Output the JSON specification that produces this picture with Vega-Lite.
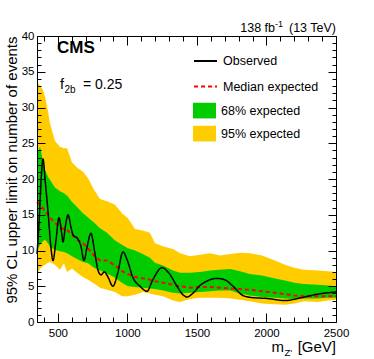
{
  "$schema": "https://vega.github.io/schema/vega-lite/v6.json",
  "width": 299,
  "height": 286,
  "autosize": {"type": "none"},
  "padding": {"left": 37, "top": 36, "right": 38, "bottom": 37},
  "background": "white",
  "config": {
    "view": {"stroke": null},
    "font": "Liberation Sans",
    "text": {"font": "Liberation Sans", "color": "black"},
    "legend": {"labelFont": "Liberation Sans", "labelFontSize": 12.5, "labelColor": "black", "labelOffset": 5, "padding": 0, "symbolSize": 529, "title": null}
  },
  "datasets": {
    "bands": [
      {"m": 350, "lo95": 6.5, "lo68": 10.0, "exp": 16.8, "hi68": 23.5, "hi95": 33.6},
      {"m": 372, "lo95": 7.5, "lo68": 10.8, "exp": 16.4, "hi68": 24.5, "hi95": 33.0},
      {"m": 393, "lo95": 7.8, "lo68": 11.3, "exp": 15.9, "hi68": 22.5, "hi95": 32.5},
      {"m": 408, "lo95": 8.0, "lo68": 11.5, "exp": 15.5, "hi68": 21.3, "hi95": 31.5},
      {"m": 429, "lo95": 8.3, "lo68": 11.0, "exp": 15.0, "hi68": 20.3, "hi95": 29.5},
      {"m": 443, "lo95": 8.4, "lo68": 10.5, "exp": 14.6, "hi68": 19.9, "hi95": 27.8},
      {"m": 479, "lo95": 8.0, "lo68": 10.1, "exp": 13.9, "hi68": 18.8, "hi95": 25.3},
      {"m": 515, "lo95": 7.3, "lo68": 9.9, "exp": 13.2, "hi68": 18.3, "hi95": 24.5},
      {"m": 544, "lo95": 8.2, "lo68": 9.8, "exp": 13.0, "hi68": 18.0, "hi95": 24.3},
      {"m": 566, "lo95": 7.0, "lo68": 9.6, "exp": 12.9, "hi68": 17.7, "hi95": 24.3},
      {"m": 602, "lo95": 7.5, "lo68": 9.2, "exp": 12.2, "hi68": 16.8, "hi95": 22.3},
      {"m": 638, "lo95": 6.9, "lo68": 8.8, "exp": 11.5, "hi68": 16.1, "hi95": 21.6},
      {"m": 681, "lo95": 6.3, "lo68": 8.4, "exp": 11.0, "hi68": 15.2, "hi95": 21.0},
      {"m": 717, "lo95": 5.9, "lo68": 8.2, "exp": 10.3, "hi68": 14.6, "hi95": 20.1},
      {"m": 760, "lo95": 5.4, "lo68": 7.6, "exp": 9.3, "hi68": 13.9, "hi95": 18.5},
      {"m": 803, "lo95": 4.8, "lo68": 7.2, "exp": 8.6, "hi68": 13.1, "hi95": 17.2},
      {"m": 853, "lo95": 4.5, "lo68": 6.8, "exp": 8.6, "hi68": 12.5, "hi95": 16.9},
      {"m": 911, "lo95": 4.2, "lo68": 6.2, "exp": 7.9, "hi68": 11.4, "hi95": 16.4},
      {"m": 961, "lo95": 3.6, "lo68": 5.5, "exp": 7.1, "hi68": 10.8, "hi95": 15.2},
      {"m": 1004, "lo95": 3.6, "lo68": 5.0, "exp": 6.7, "hi68": 10.3, "hi95": 14.5},
      {"m": 1055, "lo95": 3.8, "lo68": 4.9, "exp": 6.3, "hi68": 10.0, "hi95": 13.0},
      {"m": 1110, "lo95": 4.2, "lo68": 4.8, "exp": 6.1, "hi68": 9.5, "hi95": 12.8},
      {"m": 1162, "lo95": 4.0, "lo68": 4.7, "exp": 5.9, "hi68": 9.0, "hi95": 12.5},
      {"m": 1198, "lo95": 3.8, "lo68": 4.6, "exp": 5.7, "hi68": 8.3, "hi95": 11.0},
      {"m": 1256, "lo95": 3.6, "lo68": 4.4, "exp": 5.5, "hi68": 7.9, "hi95": 10.6},
      {"m": 1328, "lo95": 3.0, "lo68": 4.1, "exp": 5.2, "hi68": 7.2, "hi95": 10.2},
      {"m": 1378, "lo95": 2.8, "lo68": 4.0, "exp": 5.0, "hi68": 6.9, "hi95": 9.6},
      {"m": 1450, "lo95": 3.2, "lo68": 4.1, "exp": 4.8, "hi68": 6.9, "hi95": 9.2},
      {"m": 1522, "lo95": 3.4, "lo68": 4.2, "exp": 4.9, "hi68": 7.0, "hi95": 9.4},
      {"m": 1594, "lo95": 3.4, "lo68": 4.3, "exp": 4.9, "hi68": 7.2, "hi95": 9.6},
      {"m": 1666, "lo95": 3.4, "lo68": 4.4, "exp": 4.8, "hi68": 7.3, "hi95": 9.3},
      {"m": 1740, "lo95": 3.3, "lo68": 4.4, "exp": 4.7, "hi68": 7.4, "hi95": 9.5},
      {"m": 1810, "lo95": 3.1, "lo68": 4.0, "exp": 4.6, "hi68": 7.1, "hi95": 9.7},
      {"m": 1880, "lo95": 2.9, "lo68": 3.7, "exp": 4.5, "hi68": 6.7, "hi95": 9.6},
      {"m": 1968, "lo95": 2.6, "lo68": 3.5, "exp": 4.3, "hi68": 6.5, "hi95": 9.3},
      {"m": 2061, "lo95": 2.5, "lo68": 3.4, "exp": 4.1, "hi68": 6.1, "hi95": 8.6},
      {"m": 2133, "lo95": 2.4, "lo68": 3.3, "exp": 3.9, "hi68": 5.8, "hi95": 8.0},
      {"m": 2200, "lo95": 2.6, "lo68": 3.2, "exp": 3.7, "hi68": 5.5, "hi95": 7.6},
      {"m": 2270, "lo95": 2.9, "lo68": 3.3, "exp": 3.6, "hi68": 5.3, "hi95": 7.3},
      {"m": 2370, "lo95": 2.8, "lo68": 3.3, "exp": 3.6, "hi68": 5.2, "hi95": 7.2},
      {"m": 2440, "lo95": 3.0, "lo68": 3.4, "exp": 3.6, "hi68": 5.1, "hi95": 7.1},
      {"m": 2500, "lo95": 3.1, "lo68": 3.4, "exp": 3.6, "hi68": 5.0, "hi95": 7.0}
    ],
    "obs": [
      {"m": 350, "v": 9.5}, {"m": 365, "v": 14.0}, {"m": 380, "v": 20.0}, {"m": 393, "v": 22.8},
      {"m": 410, "v": 19.5}, {"m": 429, "v": 15.5}, {"m": 450, "v": 10.5}, {"m": 465, "v": 8.6},
      {"m": 487, "v": 11.5}, {"m": 508, "v": 14.6}, {"m": 527, "v": 12.5}, {"m": 537, "v": 11.2},
      {"m": 555, "v": 13.5}, {"m": 573, "v": 15.0}, {"m": 595, "v": 13.2}, {"m": 609, "v": 12.2},
      {"m": 645, "v": 11.6}, {"m": 666, "v": 10.6}, {"m": 688, "v": 8.6}, {"m": 710, "v": 10.5},
      {"m": 738, "v": 12.4}, {"m": 765, "v": 9.8}, {"m": 789, "v": 7.2}, {"m": 810, "v": 6.6},
      {"m": 835, "v": 7.0}, {"m": 860, "v": 6.3}, {"m": 896, "v": 5.0}, {"m": 930, "v": 6.8},
      {"m": 968, "v": 9.8}, {"m": 1000, "v": 8.6}, {"m": 1040, "v": 6.2}, {"m": 1091, "v": 5.0},
      {"m": 1141, "v": 4.3}, {"m": 1180, "v": 5.8}, {"m": 1249, "v": 7.6}, {"m": 1300, "v": 6.8},
      {"m": 1357, "v": 5.0}, {"m": 1400, "v": 3.8}, {"m": 1429, "v": 3.5}, {"m": 1470, "v": 4.0},
      {"m": 1522, "v": 5.1}, {"m": 1580, "v": 5.8}, {"m": 1644, "v": 6.1}, {"m": 1700, "v": 5.9},
      {"m": 1760, "v": 5.0}, {"m": 1831, "v": 3.7}, {"m": 1903, "v": 3.4}, {"m": 2000, "v": 3.3},
      {"m": 2133, "v": 3.0}, {"m": 2250, "v": 3.4}, {"m": 2370, "v": 3.9}, {"m": 2500, "v": 4.2}
    ]
  },
  "layer": [
    {
      "data": {"name": "bands"},
      "mark": {"type": "area", "opacity": 1},
      "encoding": {
        "x": {
          "field": "m", "type": "quantitative",
          "scale": {"domain": [350, 2500], "nice": false, "zero": false},
          "axis": {
            "orient": "bottom", "zindex": 1, "grid": false, "title": null,
            "values": [400,500,600,700,800,900,1000,1100,1200,1300,1400,1500,1600,1700,1800,1900,2000,2100,2200,2300,2400,2500],
            "labelExpr": "datum.value % 500 === 0 ? format(datum.value, 'd') : ''",
            "tickSize": {"condition": {"test": "datum.value % 500 === 0", "value": -9}, "value": -5},
            "tickColor": "black", "domainColor": "black", "domainWidth": 1, "tickWidth": 1,
            "labelFont": "Liberation Sans", "labelFontSize": 11.5, "labelColor": "black",
            "labelPadding": 14, "labelFlush": false, "labelOverlap": false
          }
        },
        "y": {
          "field": "lo95", "type": "quantitative",
          "scale": {"domain": [0, 40], "nice": false, "zero": false},
          "axis": {
            "orient": "left", "zindex": 1, "grid": false,
            "title": "95% CL upper limit on number of events",
            "titleFont": "Liberation Sans", "titleFontSize": 15, "titleFontWeight": "normal",
            "titleColor": "black", "titleAnchor": "end", "titlePadding": 2,
            "values": [0,1,2,3,4,5,6,7,8,9,10,11,12,13,14,15,16,17,18,19,20,21,22,23,24,25,26,27,28,29,30,31,32,33,34,35,36,37,38,39,40],
            "labelExpr": "datum.value % 5 === 0 ? format(datum.value, 'd') : ''",
            "tickSize": {"condition": {"test": "datum.value % 5 === 0", "value": -8}, "value": -4},
            "tickColor": "black", "domainColor": "black", "domainWidth": 1, "tickWidth": 1,
            "labelFont": "Liberation Sans", "labelFontSize": 11.5, "labelColor": "black",
            "labelPadding": 11, "labelFlush": false, "labelOverlap": false
          }
        },
        "y2": {"field": "hi95"},
        "fill": {
          "datum": "95% expected",
          "scale": {"domain": ["68% expected", "95% expected"], "range": ["#00cc00", "#ffcc00"]},
          "legend": {"orient": "none", "legendX": 156, "legendY": 63.1, "rowPadding": 3, "symbolType": "M-1,-0.68H1V0.68H-1Z", "symbolStrokeWidth": 0, "symbolOpacity": 1}
        }
      }
    },
    {
      "data": {"name": "bands"},
      "mark": {"type": "area", "opacity": 1},
      "encoding": {
        "x": {
          "field": "m", "type": "quantitative",
          "axis": {
            "orient": "top", "zindex": 1, "grid": false, "title": null, "labels": false,
            "values": [400,500,600,700,800,900,1000,1100,1200,1300,1400,1500,1600,1700,1800,1900,2000,2100,2200,2300,2400,2500],
            "tickSize": {"condition": {"test": "datum.value % 500 === 0", "value": -9}, "value": -5},
            "tickColor": "black", "domainColor": "black", "domainWidth": 1, "tickWidth": 1
          }
        },
        "y": {
          "field": "lo68", "type": "quantitative",
          "axis": {
            "orient": "right", "zindex": 1, "grid": false, "title": null, "labels": false,
            "values": [0,1,2,3,4,5,6,7,8,9,10,11,12,13,14,15,16,17,18,19,20,21,22,23,24,25,26,27,28,29,30,31,32,33,34,35,36,37,38,39,40],
            "tickSize": {"condition": {"test": "datum.value % 5 === 0", "value": -8}, "value": -4},
            "tickColor": "black", "domainColor": "black", "domainWidth": 1, "tickWidth": 1
          }
        },
        "y2": {"field": "hi68"},
        "fill": {"datum": "68% expected"}
      }
    },
    {
      "data": {"name": "bands"},
      "mark": {"type": "line", "strokeWidth": 2},
      "encoding": {
        "x": {"field": "m", "type": "quantitative", "axis": null},
        "y": {"field": "exp", "type": "quantitative", "axis": null},
        "stroke": {
          "datum": "Median expected",
          "scale": {"domain": ["Observed", "Median expected"], "range": ["#000000", "#ff0000"]},
          "legend": {"orient": "none", "legendX": 156, "legendY": 12.5, "rowPadding": 6.5, "symbolType": "M-1,0H1", "symbolStrokeWidth": 1.8}
        },
        "strokeDash": {
          "datum": "Median expected",
          "scale": {"domain": ["Observed", "Median expected"], "range": [[1, 0], [4, 3]]},
          "legend": {"orient": "none", "legendX": 156, "legendY": 12.5, "rowPadding": 6.5, "symbolType": "M-1,0H1", "symbolStrokeWidth": 1.8}
        }
      }
    },
    {
      "data": {"name": "obs"},
      "mark": {"type": "line", "strokeWidth": 1.5, "interpolate": "monotone"},
      "encoding": {
        "x": {"field": "m", "type": "quantitative", "axis": null},
        "y": {"field": "v", "type": "quantitative", "axis": null},
        "stroke": {"datum": "Observed"},
        "strokeDash": {"datum": "Observed"}
      }
    },
    {
      "data": {"values": [{}]},
      "mark": {"type": "text", "text": "CMS", "fontWeight": "bold", "fontSize": 17, "align": "left", "baseline": "alphabetic"},
      "encoding": {
        "x": {"datum": 494, "type": "quantitative", "axis": null},
        "y": {"datum": 37.6, "type": "quantitative", "axis": null}
      }
    },
    {
      "data": {"values": [{}]},
      "mark": {"type": "text", "text": "f", "fontSize": 14.5, "align": "left", "baseline": "alphabetic"},
      "encoding": {
        "x": {"datum": 515, "type": "quantitative", "axis": null},
        "y": {"datum": 32.6, "type": "quantitative", "axis": null}
      }
    },
    {
      "data": {"values": [{}]},
      "mark": {"type": "text", "text": "2b", "fontSize": 10, "align": "left", "baseline": "alphabetic", "dx": 4.5, "dy": 4},
      "encoding": {
        "x": {"datum": 515, "type": "quantitative", "axis": null},
        "y": {"datum": 32.6, "type": "quantitative", "axis": null}
      }
    },
    {
      "data": {"values": [{}]},
      "mark": {"type": "text", "text": "= 0.25", "fontSize": 14, "align": "left", "baseline": "alphabetic", "dx": 23},
      "encoding": {
        "x": {"datum": 515, "type": "quantitative", "axis": null},
        "y": {"datum": 32.6, "type": "quantitative", "axis": null}
      }
    },
    {
      "data": {"values": [{}]},
      "mark": {"type": "text", "text": " (13 TeV)", "fontSize": 12.5, "align": "right", "baseline": "alphabetic", "dy": -4.5},
      "encoding": {
        "x": {"datum": 2500, "type": "quantitative", "axis": null},
        "y": {"datum": 40, "type": "quantitative", "axis": null}
      }
    },
    {
      "data": {"values": [{}]},
      "mark": {"type": "text", "text": "-1", "fontSize": 9, "align": "right", "baseline": "alphabetic", "dx": -53, "dy": -9.5},
      "encoding": {
        "x": {"datum": 2500, "type": "quantitative", "axis": null},
        "y": {"datum": 40, "type": "quantitative", "axis": null}
      }
    },
    {
      "data": {"values": [{}]},
      "mark": {"type": "text", "text": "138 fb", "fontSize": 12.5, "align": "right", "baseline": "alphabetic", "dx": -61, "dy": -4.5},
      "encoding": {
        "x": {"datum": 2500, "type": "quantitative", "axis": null},
        "y": {"datum": 40, "type": "quantitative", "axis": null}
      }
    },
    {
      "data": {"values": [{}]},
      "mark": {"type": "text", "text": "[GeV]", "fontSize": 15, "align": "right", "baseline": "alphabetic", "dy": 30},
      "encoding": {
        "x": {"datum": 2500, "type": "quantitative", "axis": null},
        "y": {"datum": 0, "type": "quantitative", "axis": null}
      }
    },
    {
      "data": {"values": [{}]},
      "mark": {"type": "text", "text": "Z'", "fontSize": 9.5, "align": "right", "baseline": "alphabetic", "dx": -44, "dy": 34},
      "encoding": {
        "x": {"datum": 2500, "type": "quantitative", "axis": null},
        "y": {"datum": 0, "type": "quantitative", "axis": null}
      }
    },
    {
      "data": {"values": [{}]},
      "mark": {"type": "text", "text": "m", "fontSize": 15, "align": "right", "baseline": "alphabetic", "dx": -52, "dy": 30},
      "encoding": {
        "x": {"datum": 2500, "type": "quantitative", "axis": null},
        "y": {"datum": 0, "type": "quantitative", "axis": null}
      }
    }
  ],
  "resolve": {"axis": {"x": "independent", "y": "independent"}}
}
